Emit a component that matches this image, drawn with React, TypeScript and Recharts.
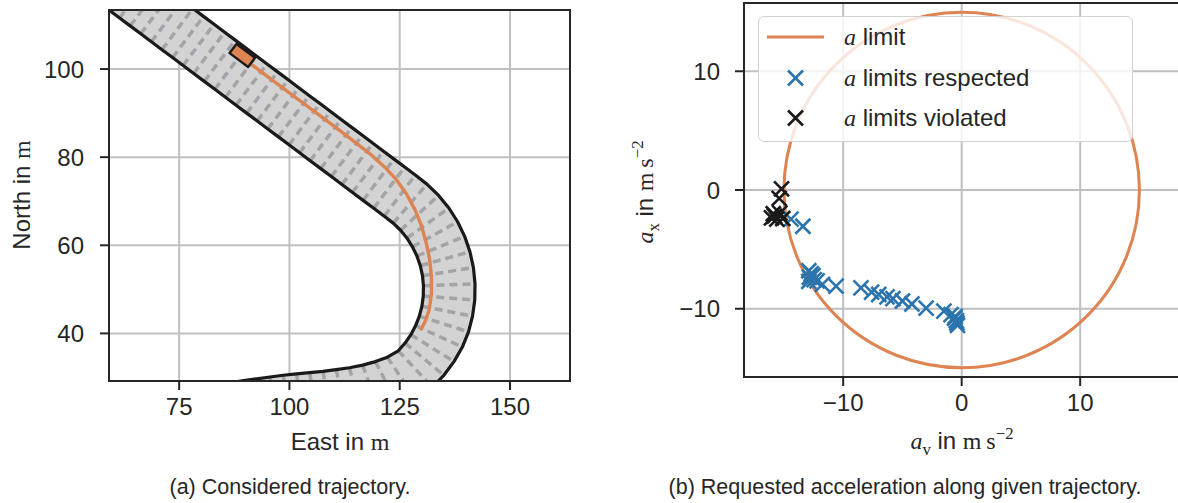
import React from 'react';
import { ComposedChart, Scatter, XAxis, YAxis, CartesianGrid, ReferenceArea, Legend } from 'recharts';

type XY = [number, number];

// (a) road boundaries, one pair per dashed cross-section (East, North in m)
const ROAD_INNER: XY[] = [
    [56.7, 115.2], [59.1, 113.4], [61.5, 111.6], [63.9, 109.8], [66.3, 108.0], [68.7, 106.2], [71.1, 104.4],
    [73.5, 102.6], [75.9, 100.8], [78.3, 99.0], [80.7, 97.2], [83.1, 95.4], [85.5, 93.6], [87.9, 91.8],
    [90.3, 90.0], [92.7, 88.2], [95.1, 86.4], [97.5, 84.6], [99.9, 82.8], [102.3, 81.0], [104.7, 79.2],
    [107.1, 77.4], [109.5, 75.6], [111.9, 73.8], [114.3, 72.0], [116.7, 70.2], [119.1, 68.4], [121.5, 66.6],
    [123.52, 65.03], [125.19, 63.41], [126.65, 61.61], [127.89, 59.65], [128.9, 57.56], [129.66, 55.37],
    [130.16, 53.1], [130.38, 50.8], [130.34, 48.48], [130.03, 46.18], [129.45, 43.93], [128.61, 41.77],
    [127.53, 39.72], [126.21, 37.81], [124.68, 36.06],
    [122.2, 34.6], [119.5, 33.6], [116.6, 32.8], [113.6, 32.2], [110.6, 31.8], [107.6, 31.4], [104.6, 31.1],
    [101.6, 30.8], [98.6, 30.5], [95.6, 30.1], [92.6, 29.7], [89.6, 29.3], [86.6, 28.8], [83.6, 28.3],
];
const ROAD_OUTER: XY[] = [
    [63.72, 124.56], [66.12, 122.76], [68.52, 120.96], [70.92, 119.16], [73.32, 117.36], [75.72, 115.56],
    [78.12, 113.76], [80.52, 111.96], [82.92, 110.16], [85.32, 108.36], [87.72, 106.56], [90.12, 104.76],
    [92.52, 102.96], [94.92, 101.16], [97.32, 99.36], [99.72, 97.56], [102.12, 95.76], [104.52, 93.96],
    [106.92, 92.16], [109.32, 90.36], [111.72, 88.56], [114.12, 86.76], [116.52, 84.96], [118.92, 83.16],
    [121.32, 81.36], [123.72, 79.56], [126.12, 77.76], [128.52, 75.96],
    [131.16, 73.88], [133.81, 71.32], [136.14, 68.46], [138.12, 65.34], [139.72, 62.02], [140.92, 58.54],
    [141.71, 54.93], [142.07, 51.27], [142.01, 47.58], [141.51, 43.93], [140.59, 40.35], [139.2, 36.9],
    [137.3, 33.6], [135.0, 30.5], [132.4, 27.8],
    [128.6, 25.0], [124.81, 23.18], [120.6, 21.8], [116.63, 20.9], [113.03, 20.36], [109.64, 19.88],
    [106.43, 19.54], [103.43, 19.24], [100.43, 18.94], [97.23, 18.52], [94.23, 18.12], [91.23, 17.72],
    [88.23, 17.22], [85.23, 16.72],
];
const PLANNED_PATH: XY[] = [
    [91.3, 101.1], [95.0, 98.35], [99.0, 95.35], [103.0, 92.35], [107.0, 89.35], [111.0, 86.35],
    [115.0, 83.3], [118.5, 80.55], [121.5, 77.85], [124.2, 74.95], [126.5, 71.7], [128.4, 68.2],
    [129.9, 64.5], [131.0, 60.6], [131.8, 56.7], [132.2, 52.8], [132.2, 49.0], [131.7, 45.5],
    [130.9, 43.0], [129.9, 41.0],
];
const VEHICLE: XY[] = [[92.2, 102.55], [90.64, 100.47], [86.44, 103.62], [88.0, 105.7]];

const EAST_DOMAIN: [number, number] = [59.1, 163.6];
const NORTH_DOMAIN: [number, number] = [29.2, 113.4];
const EAST_TICKS = [75, 100, 125, 150];
const NORTH_TICKS = [40, 60, 80, 100];

// (b) requested accelerations (a_v, a_x in m/s^2)
const A_LIMIT = 15;
const RESPECTED: XY[] = [
    [-14.4, -2.45], [-13.4, -3.05],
    [-12.9, -6.8], [-12.7, -7.05], [-12.85, -7.35], [-12.55, -7.2], [-12.45, -7.55], [-12.9, -7.7], [-12.2, -7.65],
    [-11.75, -7.95], [-10.6, -8.1], [-8.5, -8.25], [-7.6, -8.6], [-7.0, -8.8], [-6.3, -9.0], [-5.8, -9.15],
    [-5.0, -9.35], [-4.2, -9.6], [-3.0, -9.95], [-1.5, -10.2], [-0.9, -10.5], [-0.55, -10.65], [-0.6, -10.8],
    [-0.45, -11.0], [-0.4, -11.2], [-0.35, -11.4],
];
const VIOLATED: XY[] = [
    [-15.2, 0.1], [-15.4, -0.7], [-15.35, -1.95], [-15.9, -2.0], [-15.8, -2.2], [-16.05, -2.35], [-15.1, -2.4], [-15.6, -2.45],
];

const AV_DOMAIN: [number, number] = [-18.37, 18.34];
const AX_DOMAIN: [number, number] = [-15.75, 15.75];
const ACC_TICKS = [-10, 0, 10];

const TEXT = '#262626';
const GRID = '#c0c0c4';
const ORANGE = '#dd8452';
const BLUE = '#2b74ad';
const BLACK = '#1a1a1a';
const ROAD_FILL = '#d3d3d3';
const DASH = '#a3a3a8';
const SANS = '"Liberation Sans", Arial, sans-serif';
const SERIF = '"Liberation Serif", "DejaVu Serif", serif';

const toPoints = (list: XY[]) => list.map(([x, y]) => ({ x, y }));

const roadArea = toPoints([...ROAD_INNER, ...ROAD_OUTER.slice().reverse()]);
const crossSections = toPoints(ROAD_INNER.flatMap((p, i) => [p, ROAD_OUTER[i]]));

const Nothing = () => <g />;

// line renderers: Scatter hands over the scaled pixel points
const PolyLine = (props: any) => {
    const pts = props.points || [];
    if (!pts.length) return null;
    const d = pts.map((p: any, i: number) => `${i ? 'L' : 'M'}${p.x},${p.y}`).join('') + (props.closed ? 'Z' : '');
    return (
        <path d={d} fill={props.paint || 'none'} stroke={props.ink || 'none'} strokeWidth={props.weight || 0}
            strokeLinejoin="round" strokeLinecap={props.closed ? 'butt' : 'round'} />
    );
};

const Segments = (props: any) => {
    const pts = props.points || [];
    let d = '';
    for (let i = 0; i + 1 < pts.length; i += 2) d += `M${pts[i].x},${pts[i].y}L${pts[i + 1].x},${pts[i + 1].y}`;
    return <path d={d} fill="none" stroke={props.ink} strokeWidth={props.weight} strokeDasharray={props.dashes} />;
};

// circle through the two ends of a diameter
const LimitCircle = (props: any) => {
    const [a, b] = props.points || [];
    if (!a || !b) return null;
    return <circle cx={(a.x + b.x) / 2} cy={(a.y + b.y) / 2} r={Math.abs(b.x - a.x) / 2} fill="none" stroke={ORANGE} strokeWidth={3} />;
};

const makeCross = (color: string, h = 7.5, w = 2.6) => (props: any) => {
    const { cx, cy } = props;
    return (
        <g stroke={color} strokeWidth={w}>
            <line x1={cx - h} y1={cy - h} x2={cx + h} y2={cy + h} />
            <line x1={cx - h} y1={cy + h} x2={cx + h} y2={cy - h} />
        </g>
    );
};

const fmt = (v: number) => (v < 0 ? `\u2212${Math.abs(v)}` : `${v}`);
const tickStyle = { fontSize: 24, fill: TEXT, fontFamily: SANS };
const tickLine = { stroke: TEXT, strokeWidth: 2 };

const MathA = ({ sub }: { sub?: string }) => (
    <span style={{ fontFamily: SERIF }}>
        <i>a</i>
        {sub && <span style={{ fontSize: '0.7em', position: 'relative', top: '0.35em' }}>{sub}</span>}
    </span>
);
const Unit = () => (
    <span style={{ fontFamily: SERIF }}>
        m{'\u2009'}s<span style={{ fontSize: '0.7em', position: 'relative', top: '-0.6em' }}>{'\u2212'}2</span>
    </span>
);

const LegendRow = ({ top, handle, children }: any) => (
    <div style={{ position: 'absolute', left: 8, top, height: 40, display: 'flex', alignItems: 'center' }}>
        <svg width={57} height={40}>{handle}</svg>
        <span style={{ marginLeft: 20, fontFamily: SANS, fontSize: 24, color: TEXT, whiteSpace: 'nowrap' }}>{children}</span>
    </div>
);

const LegendBox = () => {
    const crossBlue = makeCross(BLUE);
    const crossBlack = makeCross(BLACK);
    return (
        <div style={{
            position: 'relative', width: 375, height: 126, boxSizing: 'border-box',
            background: 'rgba(255,255,255,0.8)', border: '1.5px solid #d2d2d2', borderRadius: 6,
        }}>
            <LegendRow top={0} handle={<line x1={0} y1={20} x2={57} y2={20} stroke={ORANGE} strokeWidth={3} />}>
                <MathA /> limit
            </LegendRow>
            <LegendRow top={41} handle={crossBlue({ cx: 28.5, cy: 20 })}>
                <MathA /> limits respected
            </LegendRow>
            <LegendRow top={81} handle={crossBlack({ cx: 28.5, cy: 20 })}>
                <MathA /> limits violated
            </LegendRow>
        </div>
    );
};

const textAt = (left: number, top: number, extra: React.CSSProperties = {}): React.CSSProperties => ({
    position: 'absolute', left, top, whiteSpace: 'nowrap', transform: 'translate(-50%, -50%)',
    fontFamily: SANS, fontSize: 24, color: TEXT, lineHeight: 1, ...extra,
});

const TrajectoryChart = () => (
    <ComposedChart width={600} height={503} margin={{ top: 10, right: 30, bottom: 92, left: 49 }}>
        <CartesianGrid stroke={GRID} strokeWidth={2} />
        <XAxis dataKey="x" type="number" domain={EAST_DOMAIN} ticks={EAST_TICKS} allowDataOverflow interval={0}
            height={30} axisLine={false} tickLine={tickLine} tickSize={9} tickMargin={8} tick={tickStyle} tickFormatter={fmt} />
        <YAxis dataKey="y" type="number" domain={NORTH_DOMAIN} ticks={NORTH_TICKS} allowDataOverflow interval={0}
            width={60} axisLine={false} tickLine={tickLine} tickSize={9} tickMargin={16} tick={tickStyle} tickFormatter={fmt} />
        <Scatter data={roadArea} shape={Nothing} line={<PolyLine closed paint={ROAD_FILL} />} isAnimationActive={false} />
        <Scatter data={crossSections} shape={Nothing} line={<Segments ink={DASH} weight={3.5} dashes="8 5" />} isAnimationActive={false} />
        <Scatter data={toPoints(ROAD_INNER)} shape={Nothing} line={<PolyLine ink={BLACK} weight={3.2} />} isAnimationActive={false} />
        <Scatter data={toPoints(ROAD_OUTER)} shape={Nothing} line={<PolyLine ink={BLACK} weight={3.2} />} isAnimationActive={false} />
        <Scatter data={toPoints(PLANNED_PATH)} shape={Nothing} line={<PolyLine ink={ORANGE} weight={3.4} />} isAnimationActive={false} />
        <Scatter data={toPoints(VEHICLE)} shape={Nothing} line={<PolyLine closed paint={ORANGE} ink={BLACK} weight={2.4} />} isAnimationActive={false} />
        <ReferenceArea x1={EAST_DOMAIN[0]} x2={EAST_DOMAIN[1]} y1={NORTH_DOMAIN[0]} y2={NORTH_DOMAIN[1]}
            fill="none" stroke={TEXT} strokeWidth={2} ifOverflow="visible" zIndex={1000} />
    </ComposedChart>
);

const AccelerationChart = () => (
    <ComposedChart width={600} height={503} margin={{ top: 3, right: 21, bottom: 96, left: 64 }}>
        <CartesianGrid stroke={GRID} strokeWidth={2} />
        <XAxis dataKey="x" type="number" domain={AV_DOMAIN} ticks={ACC_TICKS} allowDataOverflow interval={0}
            height={30} axisLine={false} tickLine={tickLine} tickSize={9} tickMargin={8} tick={tickStyle} tickFormatter={fmt} />
        <YAxis dataKey="y" type="number" domain={AX_DOMAIN} ticks={ACC_TICKS} allowDataOverflow interval={0}
            width={80} axisLine={false} tickLine={tickLine} tickSize={9} tickMargin={15} tick={tickStyle} tickFormatter={fmt} />
        <Scatter data={toPoints([[-A_LIMIT, 0], [A_LIMIT, 0]])} shape={Nothing} line={<LimitCircle />} isAnimationActive={false} />
        <Scatter data={toPoints(RESPECTED)} shape={makeCross(BLUE)} isAnimationActive={false} />
        <Scatter data={toPoints(VIOLATED)} shape={makeCross(BLACK)} isAnimationActive={false} />
        <ReferenceArea x1={AV_DOMAIN[0]} x2={AV_DOMAIN[1]} y1={AX_DOMAIN[0]} y2={AX_DOMAIN[1]}
            fill="none" stroke={TEXT} strokeWidth={2} ifOverflow="visible" zIndex={1000} />
        <Legend content={LegendBox} layout="vertical" align="center" verticalAlign="middle"
            wrapperStyle={{ left: 158, top: 16, width: 375, height: 126 }} />
    </ComposedChart>
);

export default function App() {
    return (
        <div style={{ position: 'absolute', left: 0, top: 0, width: 1178, height: 503, overflow: 'hidden', background: '#fff' }}>
            <div style={{ position: 'absolute', left: 0, top: 0 }}>
                <TrajectoryChart />
            </div>
            <div style={{ position: 'absolute', left: 600, top: 0 }}>
                <AccelerationChart />
            </div>
            <div style={textAt(340, 442)}>East in <span style={{ fontFamily: SERIF }}>m</span></div>
            <div style={textAt(22, 195, { transform: 'translate(-50%, -50%) rotate(-90deg)' })}>
                North in <span style={{ fontFamily: SERIF }}>m</span>
            </div>
            <div style={textAt(962, 441)}><MathA sub="v" /> in <Unit /></div>
            <div style={textAt(645, 192, { transform: 'translate(-50%, -50%) rotate(-90deg)' })}>
                <MathA sub="x" /> in <Unit />
            </div>
            <div style={textAt(290, 488, { fontSize: 21.5 })}>(a) Considered trajectory.</div>
            <div style={textAt(905, 488, { fontSize: 21.5 })}>(b) Requested acceleration along given trajectory.</div>
        </div>
    );
}
